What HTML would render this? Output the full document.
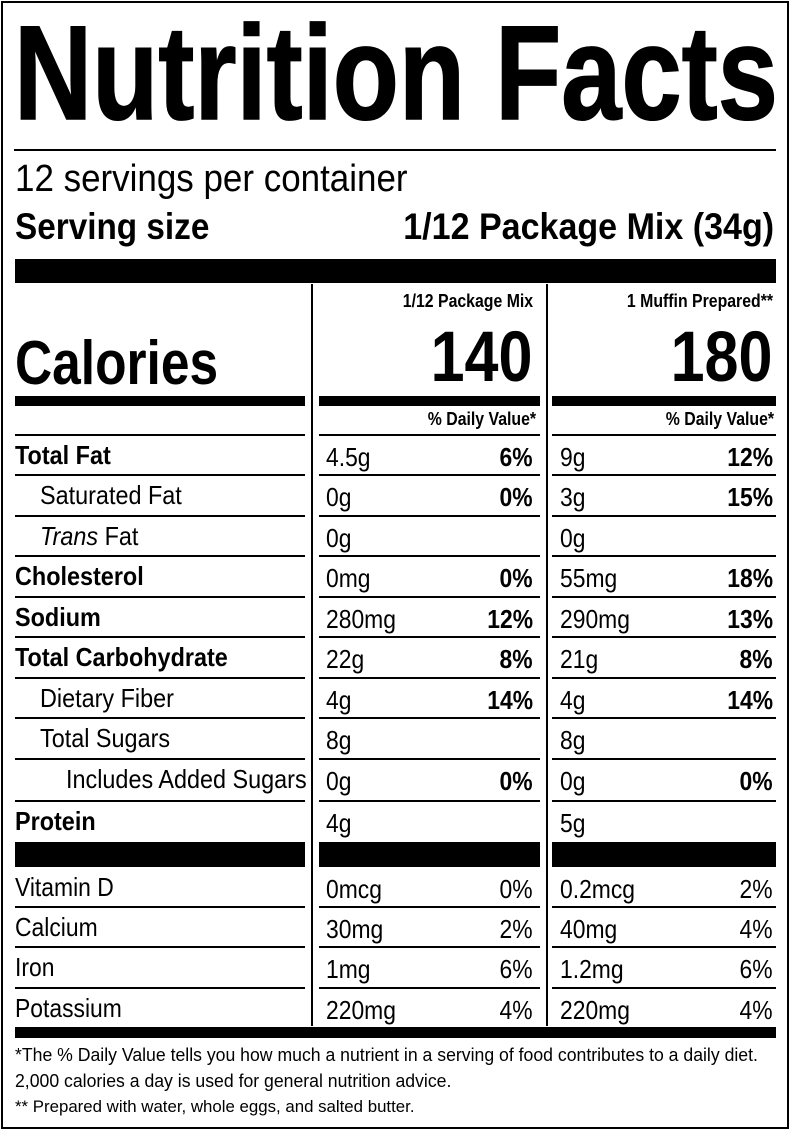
<!DOCTYPE html>
<html><head><meta charset="utf-8"><style>
*{margin:0;padding:0;box-sizing:border-box}
body{width:790px;height:1130px;background:#fff;position:relative;overflow:hidden;font-family:"Liberation Sans",Arial,sans-serif;color:#000}
.b{position:absolute;background:#000}
.t{position:absolute;white-space:nowrap;line-height:1;transform:scaleX(.88);transform-origin:left top}
.r{position:absolute;white-space:nowrap;line-height:1;transform:scaleX(.88);transform-origin:right top;text-align:right}
.bd{font-weight:bold}
</style></head><body>
<div style="position:absolute;left:1px;top:1px;width:788px;height:1128px;border:2px solid #000"></div>

<div class="t bd" style="left:14px;top:7px;font-size:134px;transform:scaleX(.808);-webkit-text-stroke:1.5px #000">Nutrition Facts</div>
<div class="b" style="left:14px;top:149px;width:762px;height:2px"></div>
<div class="t" style="left:15px;top:160px;font-size:38px;transform:scaleX(.92)">12 servings per container</div>
<div class="t bd" style="left:15px;top:208px;font-size:37px;transform:scaleX(.9)">Serving size</div>
<div class="r bd" style="right:16px;top:208px;font-size:37px;transform:scaleX(.92)">1/12 Package Mix (34g)</div>
<div class="b" style="left:15px;top:259px;width:761px;height:24px"></div>

<div class="b" style="left:311px;top:284px;width:2px;height:742px"></div>
<div class="b" style="left:546px;top:284px;width:2px;height:742px"></div>

<div class="r bd" style="right:257px;top:292px;font-size:18px">1/12 Package Mix</div>
<div class="r bd" style="right:17px;top:292px;font-size:18px">1 Muffin Prepared**</div>
<div class="t bd" style="left:15px;top:333px;font-size:62px;transform:scaleX(.83)">Calories</div>
<div class="r bd" style="right:258px;top:322px;font-size:71px;transform:scaleX(.86)">140</div>
<div class="r bd" style="right:18px;top:322px;font-size:71px;transform:scaleX(.86)">180</div>

<div class="b" style="left:15px;top:396px;width:290px;height:10px"></div>
<div class="b" style="left:319px;top:396px;width:221px;height:10px"></div>
<div class="b" style="left:552px;top:396px;width:224px;height:10px"></div>
<div class="r bd" style="right:254px;top:410px;font-size:18px">% Daily Value*</div>
<div class="r bd" style="right:16px;top:410px;font-size:18px">% Daily Value*</div>

<div id="rows"></div>
<script>
var lines=[434,474,515,555,596,636,677,717,758,800,906,946,987];
var h='';
lines.forEach(function(y){
h+='<div class="b" style="left:15px;top:'+y+'px;width:290px;height:2px"></div>';
h+='<div class="b" style="left:319px;top:'+y+'px;width:221px;height:2px"></div>';
h+='<div class="b" style="left:552px;top:'+y+'px;width:224px;height:2px"></div>';
});
h+='<div class="b" style="left:15px;top:842px;width:290px;height:25px"></div>';
h+='<div class="b" style="left:319px;top:842px;width:221px;height:25px"></div>';
h+='<div class="b" style="left:552px;top:842px;width:224px;height:25px"></div>';
h+='<div class="b" style="left:15px;top:1027px;width:761px;height:11px"></div>';
var rows=[
['<b>Total Fat</b>',15,'4.5g','6%','9g','12%',1],
['Saturated Fat',40,'0g','0%','3g','15%',1],
['<i>Trans</i> Fat',40,'0g','','0g','',1],
['<b>Cholesterol</b>',15,'0mg','0%','55mg','18%',1],
['<b>Sodium</b>',15,'280mg','12%','290mg','13%',1],
['<b>Total Carbohydrate</b>',15,'22g','8%','21g','8%',1],
['Dietary Fiber',40,'4g','14%','4g','14%',1],
['Total Sugars',40,'8g','','8g','',1],
['Includes Added Sugars',66,'0g','0%','0g','0%',1],
['<b>Protein</b>',15,'4g','','5g','',1]];
var tops=[434,474,515,555,596,636,677,717,758,800];
rows.forEach(function(r,i){
var bl=tops[i]+30, top=bl-22;
h+='<div class="t" style="left:'+r[1]+'px;top:'+top+'px;font-size:26px;transform:scaleX(.9)">'+r[0]+'</div>';
h+='<div class="t" style="left:326px;top:'+(top+2)+'px;font-size:26px">'+r[2]+'</div>';
h+='<div class="r bd" style="right:257px;top:'+(top+2)+'px;font-size:26px">'+r[3]+'</div>';
h+='<div class="t" style="left:560px;top:'+(top+2)+'px;font-size:26px">'+r[4]+'</div>';
h+='<div class="r bd" style="right:17px;top:'+(top+2)+'px;font-size:26px">'+r[5]+'</div>';
});
var v=[['Vitamin D','0mcg','0%','0.2mcg','2%'],['Calcium','30mg','2%','40mg','4%'],['Iron','1mg','6%','1.2mg','6%'],['Potassium','220mg','4%','220mg','4%']];
var vt=[866,906,946,987];
v.forEach(function(r,i){
var top=vt[i]+8;
h+='<div class="t" style="left:15px;top:'+top+'px;font-size:26px">'+r[0]+'</div>';
h+='<div class="t" style="left:326px;top:'+(top+2)+'px;font-size:26px">'+r[1]+'</div>';
h+='<div class="r" style="right:257px;top:'+(top+2)+'px;font-size:26px">'+r[2]+'</div>';
h+='<div class="t" style="left:560px;top:'+(top+2)+'px;font-size:26px">'+r[3]+'</div>';
h+='<div class="r" style="right:17px;top:'+(top+2)+'px;font-size:26px">'+r[4]+'</div>';
});
document.getElementById('rows').innerHTML=h;
</script>
<div class="t" style="left:15px;top:1046px;font-size:18px;transform:scaleX(.98)">*The % Daily Value tells you how much a nutrient in a serving of food contributes to a daily diet.</div>
<div class="t" style="left:15px;top:1072px;font-size:18px;transform:scaleX(.98)">2,000 calories a day is used for general nutrition advice.</div>
<div class="t" style="left:15px;top:1098px;font-size:17px;transform:scaleX(.99)">** Prepared with water, whole eggs, and salted butter.</div>
</body></html>
